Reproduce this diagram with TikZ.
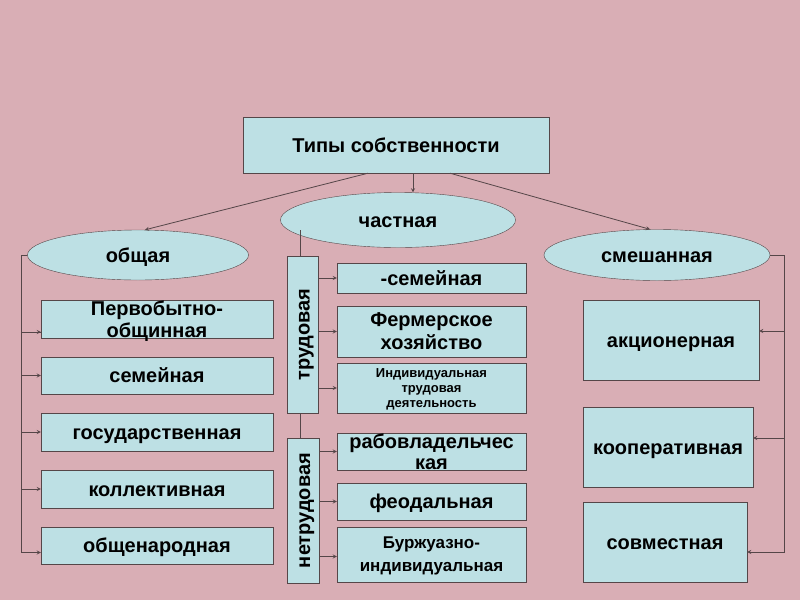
\documentclass[tikz,border=0pt]{standalone}
\usepackage{fontspec}
\setmainfont{Liberation Sans}
\usetikzlibrary{shapes.geometric,arrows}
\definecolor{fondo}{RGB}{217,174,181}
\definecolor{caja}{RGB}{189,224,228}
\definecolor{linea}{RGB}{85,70,72}
\tikzset{
  caja/.style={draw=linea,fill=caja,rectangle,inner sep=0pt,align=center,
    text depth=0pt,font=\fontsize{20}{22}\selectfont\bfseries},
  elipse/.style={draw=linea,fill=caja,ellipse,inner sep=0pt,
    font=\fontsize{20}{22}\selectfont\bfseries,text height=14.4pt,text depth=0pt},
  una/.style={caja,text height=14.4pt},
  linea/.style={draw=linea,line width=0.8pt},
  flecha/.style={linea,-stealth}
}
\begin{document}
\begin{tikzpicture}[x=1pt,y=-1pt]
  % Fondo
  \fill[fondo] (0,0) rectangle (800,600);
  \useasboundingbox (0,0) rectangle (800,600);

  % Caja principal
  \node[una,minimum width=306,minimum height=56] (tipos) at (396,145) {Типы собственности};

  % Tres elipses
  \node[elipse,minimum width=221,minimum height=50] (obsh) at (138,255) {общая};
  \node[elipse,minimum width=235,minimum height=55] (chast) at (398,220) {частная};
  \node[elipse,minimum width=226,minimum height=51] (smesh) at (657,255) {смешанная};

  % Columna izquierda
  \node[caja,minimum width=232,minimum height=38] (perv) at (157,319) {Первобытно-\\общинная};
  \node[una,minimum width=232,minimum height=37] (sem) at (157,375.5) {семейная};
  \node[una,minimum width=232,minimum height=38] (gos) at (157,432) {государственная};
  \node[una,minimum width=232,minimum height=38] (koll) at (157,489) {коллективная};
  \node[una,minimum width=232,minimum height=37] (obnar) at (157,545.5) {общенародная};

  % Columna central
  \node[una,minimum width=157,minimum height=31,rotate=90] (trud) at (302.5,334.5) {трудовая};
  \node[una,minimum width=145,minimum height=32,rotate=90] (netrud) at (303,510.5) {нетрудовая};

  \node[una,minimum width=189,minimum height=30] (csem) at (431.5,278) {-семейная};
  \node[caja,minimum width=189,minimum height=51,font=\fontsize{20}{23}\selectfont\bfseries] (ferm) at (431.5,331.5) {Фермерское\\хозяйство};
  \node[caja,minimum width=189,minimum height=50,font=\fontsize{13}{15}\selectfont\bfseries] (indiv) at (431.5,388) {Индивидуальная\\трудовая\\деятельность};
  \node[caja,minimum width=189,minimum height=37,font=\fontsize{20}{21}\selectfont\bfseries] (rab) at (431.5,451.5) {рабовладельчес\\кая};
  \node[una,minimum width=189,minimum height=37] (feod) at (431.5,501.5) {феодальная};
  \node[caja,minimum width=189,minimum height=55,font=\fontsize{17}{23}\selectfont\bfseries] (burzh) at (431.5,554.5) {Буржуазно-\\индивидуальная};

  % Columna derecha
  \node[una,minimum width=176,minimum height=80] (akc) at (671,340) {акционерная};
  \node[una,minimum width=170,minimum height=80] (koop) at (668,447) {кооперативная};
  \node[una,minimum width=164,minimum height=80] (sovm) at (665,542) {совместная};

  % Conexiones desde la caja principal
  \draw[flecha] ([xshift=-28pt]tipos.south) -- ([xshift=7pt]obsh.north);
  \draw[flecha] ([xshift=17pt]tipos.south) -- ([xshift=15pt]chast.north);
  \draw[flecha] ([xshift=54pt]tipos.south) -- ([xshift=-7pt]smesh.north);

  % Rama izquierda
  \draw[linea] (obsh.west) -- ++(-6,0) |- ([yshift=-13pt]perv.west);
  \draw[flecha] ([xshift=-19pt,yshift=-13pt]perv.west) -- ([yshift=-13pt]perv.west);
  \draw[flecha] (obsh.west) -- ++(-6,0) |- (sem.west);
  \draw[flecha] (obsh.west) -- ++(-6,0) |- (gos.west);
  \draw[flecha] (obsh.west) -- ++(-6,0) |- (koll.west);
  \draw[flecha] (obsh.west) -- ++(-6,0) |- ([yshift=-7pt]obnar.west);

  % Rama central
  \draw[linea] ([xshift=-98pt,yshift=-10pt]chast.center) coordinate (c1) -- (c1 |- trud.east);
  \draw[linea] (c1 |- trud.west) -- (c1 |- netrud.east);
  \draw[flecha] (trud.south |- csem.west) -- (csem.west);
  \draw[flecha] (trud.south |- ferm.west) -- (ferm.west);
  \draw[flecha] (trud.south |- indiv.west) -- (indiv.west);
  \draw[flecha] (netrud.south |- rab.west) -- (rab.west);
  \draw[flecha] (netrud.south |- feod.west) -- (feod.west);
  \draw[flecha] ([yshift=-2pt]netrud.south |- burzh.west) -- ([yshift=-2pt]burzh.west);

  % Rama derecha
  \draw[flecha] (smesh.east) -- ++(14,0) |- ([yshift=9pt]akc.east);
  \draw[flecha] (smesh.east) -- ++(14,0) |- ([yshift=9pt]koop.east);
  \draw[flecha] (smesh.east) -- ++(14,0) |- ([yshift=-10pt]sovm.east);
\end{tikzpicture}
\end{document}
